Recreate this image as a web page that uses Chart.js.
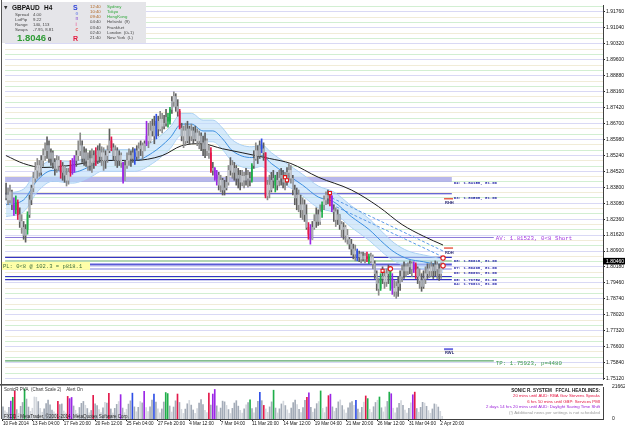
<!DOCTYPE html>
<html>
<head>
<meta charset="utf-8">
<title>GBPAUD H4</title>
<script src="https://cdn.jsdelivr.net/npm/chart.js@4.4.1/dist/chart.umd.min.js"></script>
<style>
  html, body { margin: 0; padding: 0; background: #fff; }
  #wrap { position: relative; width: 625px; height: 429px; overflow: hidden; background: #fff; }
  canvas { position: absolute; left: 0; }
  #main { top: 0; }
  #vol { top: 384px; }
</style>
</head>
<body>
<div id="wrap">
  <canvas id="main" width="625" height="385"></canvas>
  <canvas id="vol" width="625" height="45"></canvas>
</div>
<script>
// GBPAUD H4 bars, 10 Feb 16:00 .. 3 Apr 00:00 (one value per bar)
const firstOpen = 1.8332;
const closes = [
  1.8345,1.8323,1.8359,1.8301,1.8278,1.8310,1.8256,1.8225,1.8198,1.8162,1.8189,
  1.8256,1.8323,1.8377,1.8421,1.8457,
  1.8479,1.8448,1.8502,1.8524,1.8546,1.8569,1.8511,1.8537,1.8493,1.8466,1.8502,1.8479,1.8448,1.8475,1.8435,
  1.8412,1.8448,1.8479,1.8457,1.8502,1.8524,
  1.8546,1.8569,1.8511,1.8537,1.8502,1.8479,1.8511,1.8493,1.8524,1.8502,1.8546,1.8520,1.8537,
  1.8502,1.8524,1.8546,1.8591,1.8560,1.8524,1.8546,1.8502,1.8524,1.8493,1.8412,
  1.8479,1.8502,1.8524,1.8511,1.8537,1.8520,1.8546,1.8555,1.8569,1.8546,
  1.8578,1.8613,1.8591,1.8636,1.8658,1.8613,1.8680,1.8645,1.8689,1.8658,1.8671,1.8698,
  1.8680,1.8734,1.8770,1.8792,1.8747,1.8725,
  1.8649,1.8613,1.8636,
  1.8591,1.8645,1.8613,1.8636,1.8600,1.8627,1.8591,1.8613,1.8582,1.8555,1.8591,1.8546,1.8537,
  1.8457,1.8466,
  1.8421,1.8435,1.8390,1.8412,1.8368,1.8377,1.8403,
  1.8457,1.8479,1.8448,1.8466,1.8421,1.8435,1.8403,1.8430,1.8412,1.8435,
  1.8421,1.8412,1.8479,1.8511,1.8546,1.8524,1.8569,1.8555,1.8537,
  1.8341,1.8390,
  1.8368,1.8412,1.8421,1.8390,1.8412,1.8421,1.8435,1.8403,1.8421,1.8448,1.8457,
  1.8421,1.8368,1.8332,1.8345,1.8301,1.8278,1.8301,1.8256,1.8198,1.8167,1.8144,
  1.8198,1.8225,1.8256,1.8225,1.8269,1.8301,1.8323,1.8345,1.8332,1.8341,
  1.8278,1.8269,1.8234,1.8256,1.8211,1.8189,1.8198,1.8162,1.8144,
  1.8122,1.8100,1.8077,1.8091,1.8064,1.8077,1.8055,1.8068,1.8055,1.8064,1.8046,1.8064,1.8033,
  1.7988,1.7943,1.7921,1.7966,1.7975,1.7952,1.7988,1.8001,1.7966,1.7921,1.7908,1.7930,
  1.7943,1.7975,1.8001,1.8019,1.8001,1.8019,1.8033,1.8010,1.8028,1.8010,1.7975,
  1.7957,1.7930,1.7966,1.7988,1.8010,1.8001,
  1.8019,1.8001,1.8028,1.8010,1.7988,1.8019,1.8046
];
const highs = [
  1.8399,1.8377,1.8390,1.8368,1.8332,1.8341,1.8323,1.8287,1.8256,1.8225,1.8211,
  1.8269,1.8345,1.8390,1.8448,1.8493,
  1.8511,1.8502,1.8524,1.8555,1.8582,1.8609,1.8591,1.8555,1.8546,1.8511,1.8524,1.8520,1.8502,1.8493,1.8479,
  1.8466,1.8466,1.8502,1.8511,1.8524,1.8546,
  1.8591,1.8627,1.8591,1.8564,1.8555,1.8537,1.8546,1.8555,1.8546,1.8560,1.8569,1.8578,1.8564,
  1.8560,1.8546,1.8569,1.8645,1.8609,1.8578,1.8569,1.8560,1.8546,1.8537,1.8493,
  1.8502,1.8537,1.8555,1.8546,1.8560,1.8555,1.8569,1.8582,1.8591,1.8582,
  1.8591,1.8680,1.8671,1.8680,1.8689,1.8703,1.8712,1.8703,1.8725,1.8716,1.8707,1.8734,
  1.8716,1.8743,1.8792,1.8814,1.8805,1.8778,
  1.8734,1.8671,1.8658,
  1.8671,1.8680,1.8658,1.8667,1.8653,1.8658,1.8645,1.8636,1.8627,1.8613,1.8627,1.8600,1.8569,
  1.8560,1.8493,
  1.8470,1.8457,1.8448,1.8435,1.8421,1.8412,1.8430,
  1.8479,1.8515,1.8502,1.8493,1.8479,1.8466,1.8457,1.8457,1.8448,1.8466,
  1.8457,1.8448,1.8488,1.8546,1.8582,1.8569,1.8591,1.8600,1.8582,
  1.8524,1.8412,
  1.8435,1.8448,1.8457,1.8435,1.8448,1.8457,1.8466,1.8457,1.8448,1.8470,1.8488,
  1.8479,1.8435,1.8390,1.8377,1.8368,1.8345,1.8332,1.8323,1.8301,1.8220,1.8211,
  1.8225,1.8256,1.8287,1.8278,1.8301,1.8314,1.8341,1.8359,1.8368,1.8359,
  1.8336,1.8301,1.8287,1.8278,1.8256,1.8225,1.8220,1.8207,1.8189,
  1.8153,1.8144,1.8122,1.8118,1.8100,1.8091,1.8086,1.8086,1.8082,1.8086,1.8077,1.8082,1.8073,
  1.8046,1.8001,1.7966,1.7988,1.8019,1.7997,1.8010,1.8028,1.8019,1.7988,1.7957,1.7952,
  1.7975,1.8001,1.8028,1.8042,1.8033,1.8037,1.8046,1.8042,1.8042,1.8037,1.8019,
  1.8010,1.7988,1.8001,1.8019,1.8033,1.8033,
  1.8042,1.8033,1.8046,1.8042,1.8033,1.8037,1.8055
];
const lows = [
  1.8323,1.8301,1.8310,1.8278,1.8252,1.8260,1.8234,1.8198,1.8171,1.8144,1.8131,
  1.8167,1.8243,1.8301,1.8359,1.8403,
  1.8421,1.8430,1.8435,1.8475,1.8502,1.8511,1.8493,1.8479,1.8466,1.8435,1.8448,1.8457,1.8421,1.8412,1.8403,
  1.8386,1.8394,1.8430,1.8439,1.8448,1.8475,
  1.8502,1.8524,1.8493,1.8479,1.8475,1.8457,1.8457,1.8448,1.8466,1.8479,1.8488,1.8493,1.8479,
  1.8457,1.8466,1.8493,1.8537,1.8546,1.8502,1.8479,1.8470,1.8479,1.8470,1.8399,
  1.8421,1.8466,1.8479,1.8475,1.8493,1.8484,1.8502,1.8511,1.8524,1.8511,
  1.8546,1.8569,1.8560,1.8582,1.8613,1.8578,1.8600,1.8613,1.8636,1.8627,1.8645,1.8658,
  1.8653,1.8667,1.8716,1.8747,1.8725,1.8703,
  1.8645,1.8591,1.8560,
  1.8569,1.8582,1.8578,1.8591,1.8578,1.8591,1.8569,1.8555,1.8546,1.8524,1.8515,1.8524,1.8511,
  1.8448,1.8435,
  1.8412,1.8390,1.8368,1.8359,1.8345,1.8345,1.8368,
  1.8390,1.8435,1.8421,1.8412,1.8390,1.8377,1.8368,1.8386,1.8377,1.8390,
  1.8381,1.8386,1.8403,1.8466,1.8502,1.8488,1.8511,1.8537,1.8502,
  1.8332,1.8323,
  1.8332,1.8359,1.8377,1.8359,1.8368,1.8386,1.8390,1.8377,1.8368,1.8390,1.8412,
  1.8399,1.8345,1.8301,1.8278,1.8269,1.8243,1.8234,1.8225,1.8189,1.8144,1.8122,
  1.8153,1.8189,1.8198,1.8207,1.8211,1.8243,1.8278,1.8301,1.8305,1.8296,
  1.8269,1.8225,1.8202,1.8211,1.8189,1.8153,1.8144,1.8131,1.8122,
  1.8100,1.8073,1.8055,1.8046,1.8046,1.8042,1.8037,1.8046,1.8037,1.8042,1.8033,1.8037,1.8010,
  1.7966,1.7912,1.7890,1.7912,1.7943,1.7921,1.7930,1.7943,1.7912,1.7894,1.7885,1.7876,
  1.7885,1.7912,1.7952,1.7966,1.7975,1.7984,1.7988,1.7975,1.7993,1.7966,1.7943,
  1.7921,1.7908,1.7921,1.7943,1.7966,1.7970,
  1.7975,1.7966,1.7979,1.7966,1.7957,1.7966,1.8010
];
// tick volume, six bars per trading day
const volumes = [
  8200,5600,4300,7900,12100,14700,
  18900,6400,3900,8600,11200,20300,
  13500,8100,5200,7300,14900,14700,
  11800,7200,4600,6900,10400,12800,
  9600,6100,4800,3600,12000,9800,
  10200,5400,4100,15300,13800,14600,
  8800,5900,3700,7800,10600,11900,
  9300,7100,4200,5800,16000,10200,
  9100,6300,4400,7600,11300,10800,
  17400,6800,4100,7200,9900,11800,
  16500,7400,4300,6600,10100,12300,
  17500,8200,4900,7900,11800,10900,
  18800,7700,5100,8300,12800,16800,
  11400,6900,4200,6800,11500,17900,
  17200,8800,4700,8100,12300,16900,
  11200,6500,3800,6700,10300,12600,
  9400,6100,3900,7100,10800,13200,
  9800,5800,4300,17500,9400,16900,
  20000,8900,4800,7400,12100,11600,
  9200,6400,3700,7200,10800,12400,
  8700,5900,4000,6800,9600,11100,
  13000,7100,4200,7700,11900,18000,
  12400,9200,6800,4500,8200,11600,
  19500,7400,4100,6900,10200,12100,
  9100,6200,3900,7400,11100,12800,
  9800,6600,4400,7800,12600,14700,
  17700,7900,4600,6900,10400,11800,
  19000,7200,4300,8100,15800,16800,
  8200,5100,7300,11600,12900,9100,
  6200,4000,7600,10900,11800,9300,
  12600,6700,4300,7900,11400,15600,
  13800,6600,4400,8300,11200,12700,
  14900,7600,4800,8200,11900,18200,
  17100,7300,4200,7600,10600,12400,
  9300,6100,4000,7200,10900,16400,
  18200,7100,4600,7900,11300,10800,
  8600,5700,3900,6800,10200,9800,
  8100,5200,1800
];
// PVA bar class per bar: g normal, l low, r/n climax bear/bull, b/v rising volume
const pvaDays = ['gllgvn','rglggn','ggllll','gllggg','ggllrg','gllrvv','gllggg','lglgrg','gllglg','rglggl',
  'vgllgg','bglglg','vllggb','gllggn','nglggr','gllggl','ggllgg','gllrgv','vglggg','lglggg',
  'gllglg','nglggb','grllgg','nglggl','gllggg','lglggr','vglggl','nllgrv','glgglg','llgggl',
  'bglglr','nllggl','ngllgn','vllggl','gllglv','rglggl','gllggl','gll'];

// moving averages, read at a few bars
const smaBars = [0,9,19,29,39,50,65,80,90,100,111,121,135,146,160,177,191,203,214,224];
const smaVals = [1.8524,1.8488,1.8470,1.8475,1.8488,1.8502,1.8502,1.8524,1.8569,1.8578,1.8555,1.8537,1.8511,1.8488,1.8426,1.8368,1.8292,1.8211,1.8158,1.8118];
const emaBars = [0,9,16,24,34,44,49,66,75,84,90,95,101,106,111,116,126,131,136,143,152,160,168,177,186,194,199,206,214,224];
const emaMid = [1.8301,1.8323,1.8412,1.8457,1.8448,1.8479,1.8502,1.8502,1.8537,1.8604,1.8667,1.8667,1.8636,1.8636,1.8600,1.8546,1.8515,1.8524,1.8488,1.8444,1.8390,1.8336,1.8314,1.8247,1.8189,1.8122,1.8086,1.8055,1.8042,1.8024];
const emaUpper = [1.8354,1.8372,1.8461,1.8502,1.8497,1.8528,1.8551,1.8551,1.8587,1.8653,1.8716,1.8716,1.8685,1.8685,1.8649,1.8595,1.8564,1.8573,1.8537,1.8493,1.8439,1.8386,1.8359,1.8296,1.8238,1.8167,1.8127,1.8091,1.8073,1.8055];
const emaLower = [1.8247,1.8269,1.8359,1.8408,1.8399,1.8430,1.8453,1.8453,1.8488,1.8555,1.8618,1.8618,1.8587,1.8587,1.8551,1.8497,1.8466,1.8475,1.8439,1.8394,1.8341,1.8287,1.8265,1.8198,1.8140,1.8077,1.8046,1.8019,1.8010,1.7993];
const projBars = [167, 224];
const projA = [1.8332, 1.8091];
const projB = [1.8301, 1.8064];

// order levels and labels
const levelNames = ['02','03','08','07','06','05','04'];
const levelPrices = [1.84158,1.83508,1.80618,1.80298,1.80091,1.79752,1.79611];
const levelLots = '81.00';
const avPrice = 1.81523, avNote = '0<8 Short';
const tpPrice = 1.75923, tpPips = 4480;
const bidPrice = 1.80460;
const plText = 'PL: 0<8 @ 102.3 = p818.1';
const pivotTags = ['RHH','RDH','RWL'];
const pivotPrices = [1.8328, 1.8104, 1.7646];
const markBars = [143, 144, 166, 193, 197, 224, 224];
const markPrices = [1.8426, 1.8412, 1.8354, 1.8001, 1.8010, 1.8024, 1.8059];

// axes
const priceTickTop = 1.91760, priceTickStep = 0.0072349;
const priceLabels = ['1.91760','1.91040','1.90320','1.89600','1.88880','1.88160','1.87420','1.86700','1.85980','1.85240',
  '1.84520','1.83800','1.83080','1.82360','1.81620','1.80900','1.80180','1.79460','1.78740','1.78020','1.77320','1.76600','1.75840','1.75120'];
const timeTickBars = [0,15,31,47,63,79,95,111,127,143,159,175,191,207,223];
const timeLabels = ['10 Feb 2014','13 Feb 04:00','17 Feb 20:00','20 Feb 12:00','25 Feb 04:00','27 Feb 20:00','4 Mar 12:00',
  '7 Mar 04:00','11 Mar 20:00','14 Mar 12:00','19 Mar 04:00','21 Mar 20:00','26 Mar 12:00','31 Mar 04:00','2 Apr 20:00'];
const volMax = 21662;

// info panel
const symbolName = 'GBPAUD', timeframe = 'H4';
const infoKeys = ['Spread','LotPip','Range','Swaps'];
const infoVals = ['4.00','9.22','140, 113','-7.95, 8.81'];
const bidText = '1.8046', bidPip = '0';
const sessionTimes = ['12:40','10:40','09:40','04:40','03:40','02:40','21:40'];
const sessionCities = ['Sydney','Tokyo','HongKong','Helsinki  (9)','Frankfurt','London  (0+1)','New York  (L)'];

// sub window texts
const pvaTitle = 'SonicR PVA  (Chart Scale 2)    Alert On';
const brokerNote = 'FXDD - MetaTrader, \u00a92001-2014, MetaQuotes Software Corp.';
const newsTitle = 'SONIC R. SYSTEM   FFCAL HEADLINES:';
const newsLines = ['20 mins until AUD: RBA Gov Stevens Speaks','6 hrs 50 mins until GBP: Services PMI',
  '2 days 14 hrs 20 mins until AUD: Daylight Saving Time Shift','(!) Additional news per settings is not scheduled'];

// ---------------------------------------------------------------
const X_MIN = -0.5, X_MAX = 306;
const Y_TOP = 1.92073, Y_BOTTOM = 1.75057;
const LEVEL_END = 228.5, LONG_END = 250;

const C = { g:'#a3abb7', l:'#d3d7dd', r:'#e3184a', n:'#1fae4a', b:'#2f4fe6', v:'#9b27e6' };
const wickCol = c => c === 'g' ? '#5e5e5e' : c === 'l' ? '#8a8a8a' : C[c];
const bodyCol = c => c === 'g' ? '#a9aeb5' : c === 'l' ? '#c9ccd1' : C[c];
const gridCycle = ['#d9d9f5', '#f1ecd8', '#d2efd2'];

const pva = pvaDays.join('');
const n = Math.min(closes.length, highs.length, lows.length, volumes.length);
const bars = [...Array(n).keys()];
const opens = bars.map(i => i === 0 ? firstOpen : closes[i - 1]);
const wickData = bars.map(i => ({ x: i, y: [Math.min(lows[i], opens[i], closes[i]), Math.max(highs[i], opens[i], closes[i])] }));
const bodyData = bars.map(i => ({ x: i, y: [opens[i], closes[i]] }));
const pts = (xs, ys) => xs.map((b, i) => ({ x: b, y: ys[i] }));

const subIndex = v => Math.round((priceTickTop - v) / (priceTickStep / 3));
const gridValues = [];
for (let m = -2; m <= 3 * (priceLabels.length - 1); m++) {
  const v = priceTickTop - m * priceTickStep / 3;
  if (v >= Y_BOTTOM && v <= Y_TOP) gridValues.push(v);
}
gridValues.sort((a, b) => a - b);

const levelStyle = [
  { w: 5, c: 'rgba(170,170,232,0.85)' }, { w: 1.2, c: '#3434c4' }, { w: 1.2, c: '#3434c4' },
  { w: 2, c: '#5a5ad6' }, { w: 1.6, c: '#a8a8e8' }, { w: 1.2, c: '#3434c4' }, { w: 1.2, c: '#3434c4' }
];
const hline = (p, end, color, width, order) => ({
  type: 'line', data: [{ x: X_MIN, y: p }, { x: end, y: p }], borderColor: color, borderWidth: width,
  pointRadius: 0, order
});

function txt(ctx, s, x, y, font, color, align) {
  ctx.font = font; ctx.fillStyle = color; ctx.textAlign = align || 'left'; ctx.textBaseline = 'alphabetic';
  ctx.fillText(s, x, y);
}

Chart.defaults.font.family = 'Liberation Sans';
Chart.defaults.color = '#000';

const mainOverlay = {
  id: 'mainOverlay',
  afterDraw(chart) {
    const { ctx, scales: { x, y } } = chart;
    const X = v => x.getPixelForValue(v), Y = v => y.getPixelForValue(v);
    ctx.save();
    ctx.fillStyle = '#555'; ctx.fillRect(1, 0, 1, 385);

    // pivot tags
    const tagCol = ['#e8604c', '#e8604c', '#6a6ae0'];
    pivotTags.forEach((t, i) => {
      const py = Y(pivotPrices[i]);
      ctx.fillStyle = tagCol[i];
      ctx.fillRect(X(224) + 1, py - 0.8, 9, i === 2 ? 2 : 1.5);
      txt(ctx, t, X(224) + 2, py + 5.5, 'bold 4px "Liberation Sans"', '#26266e');
    });
    // level labels
    levelPrices.forEach((p, i) => txt(ctx, `${levelNames[i]}: ${p.toFixed(5)}, ${levelLots}`,
      X(LEVEL_END) + 2, Y(p) + 5, 'bold 4px "Liberation Mono"', '#1b1ba6'));
    txt(ctx, `AV: ${avPrice.toFixed(5)}, ${avNote}`, X(LONG_END) + 2, Y(avPrice) + 3, '5.8px "Liberation Mono"', '#a43ae0');
    txt(ctx, `TP: ${tpPrice.toFixed(5)}, p=${tpPips}`, X(LONG_END) + 2, Y(tpPrice) + 4.5, '5.8px "Liberation Mono"', '#3c9a4c');

    // PL box
    const yb = Y(bidPrice);
    ctx.fillStyle = '#ffffa8'; ctx.fillRect(2, yb + 1, 88, 8);
    txt(ctx, plText, 3, yb + 7.3, '5.5px "Liberation Mono"', '#40703f');
    // bid tag on axis
    ctx.fillStyle = '#000'; ctx.fillRect(603, yb - 3, 22, 6.5);
    txt(ctx, bidPrice.toFixed(5), 606, yb + 2, '5px "Liberation Sans"', '#fff');

    // info panel
    ctx.fillStyle = '#e5e5e9'; ctx.fillRect(2, 2, 144, 41);
    txt(ctx, '\u25bc', 4, 8.5, '4.5px "DejaVu Sans"', '#333');
    txt(ctx, symbolName, 12, 9.5, 'bold 6.5px "Liberation Sans"', '#111');
    txt(ctx, timeframe, 44, 9.5, 'bold 6.5px "Liberation Sans"', '#111');
    infoKeys.forEach((k, i) => {
      txt(ctx, k, 15, 15.5 + 5.3 * i, '4.3px "Liberation Sans"', '#444');
      txt(ctx, infoVals[i], 33, 15.5 + 5.3 * i, '4.3px "Liberation Sans"', '#444');
    });
    txt(ctx, bidText, 17, 41, 'bold 9.5px "Liberation Sans"', '#2e9b35');
    txt(ctx, bidPip, 48, 41, 'bold 6px "Liberation Sans"', '#111');
    txt(ctx, 'S', 73, 9.5, 'bold 7px "Liberation Sans"', '#2a3ed8');
    ['o','n','i','c'].forEach((ch, i) => txt(ctx, ch, 75.5, 15 + 5.3 * i, 'bold 4.5px "Liberation Sans"',
      ['#7d8fe6','#9d6fd6','#e86aa0','#e84c4c'][i]));
    txt(ctx, 'R', 73, 41, 'bold 7px "Liberation Sans"', '#e3183c');
    sessionTimes.forEach((t, i) => {
      txt(ctx, t, 90, 7.5 + 5.3 * i, '4.3px "Liberation Sans"', i < 3 ? '#b0641e' : '#454545');
      txt(ctx, sessionCities[i], 107, 7.5 + 5.3 * i, '4.3px "Liberation Sans"', i < 3 ? '#2ea83a' : '#454545');
    });
    ctx.restore();
  }
};

new Chart(document.getElementById('main'), {
  type: 'bar',
  data: {
    datasets: [
      { type: 'line', data: pts(markBars, markPrices), showLine: false,
        pointStyle: ['rect','rect','rect','rect','circle','circle','circle'], pointRadius: 2.2,
        pointBorderColor: '#e01818', pointBackgroundColor: '#fff', pointBorderWidth: 1.1, order: 0 },
      { data: bodyData, backgroundColor: bars.map(i => bodyCol(pva[i])), barThickness: 1, grouped: false, order: 1 },
      { data: wickData, backgroundColor: bars.map(i => wickCol(pva[i])), barThickness: 1, grouped: false, order: 2 },
      { type: 'line', data: pts(smaBars, smaVals), borderColor: '#1e1e1e', borderWidth: 1, pointRadius: 0,
        cubicInterpolationMode: 'monotone', order: 3 },
      { type: 'line', data: pts(emaBars, emaMid), borderColor: '#3c8fe0', borderWidth: 1, pointRadius: 0,
        cubicInterpolationMode: 'monotone', order: 3 },
      { type: 'line', data: pts(projBars, projA), borderColor: '#5a9ae8', borderWidth: 1, borderDash: [3, 2], pointRadius: 0, order: 3 },
      { type: 'line', data: pts(projBars, projB), borderColor: '#5a9ae8', borderWidth: 1, borderDash: [3, 2], pointRadius: 0, order: 3 },
      { type: 'line', data: pts(emaBars, emaUpper), borderColor: '#a9cff2', borderWidth: 1, pointRadius: 0,
        cubicInterpolationMode: 'monotone', backgroundColor: 'rgba(186,220,250,0.6)', fill: '+1', order: 5 },
      { type: 'line', data: pts(emaBars, emaLower), borderColor: '#a9cff2', borderWidth: 1, pointRadius: 0,
        cubicInterpolationMode: 'monotone', fill: false, order: 5 },
      ...levelPrices.map((p, i) => hline(p, LEVEL_END, levelStyle[i].c, levelStyle[i].w, 6)),
      hline(avPrice, LONG_END, '#8a78d8', 1, 6),
      hline(tpPrice, LONG_END, '#5aa66a', 1.2, 6),
      hline(bidPrice, LEVEL_END, '#86b886', 1, 6)
    ]
  },
  options: {
    responsive: false, animation: false,
    layout: { padding: { left: 2, top: 2, right: 0, bottom: 2 } },
    plugins: { legend: { display: false }, tooltip: { enabled: false } },
    scales: {
      x: { type: 'linear', min: X_MIN, max: X_MAX, display: false, offset: false, grid: { display: false, offset: false } },
      y: {
        position: 'right', min: Y_BOTTOM, max: Y_TOP, beginAtZero: false,
        afterFit(s) { s.width = 22; },
        afterBuildTicks(s) { s.ticks = gridValues.map(v => ({ value: v })); },
        ticks: {
          autoSkip: false, padding: 1, color: '#111',
          font: { size: 5, lineHeight: 0.8 },
          callback: v => { const m = subIndex(v); return (m >= 0 && m % 3 === 0) ? priceLabels[m / 3] : ''; }
        },
        grid: {
          color: c => c.tick ? gridCycle[((subIndex(c.tick.value) % 3) + 3) % 3] : 'transparent',
          tickColor: c => (c.tick && subIndex(c.tick.value) % 3 === 0) ? '#222' : 'transparent',
          tickLength: 2, lineWidth: 1
        },
        border: { display: true, color: '#404040' }
      }
    }
  },
  plugins: [mainOverlay]
});

const volOverlay = {
  id: 'volOverlay',
  afterDraw(chart) {
    const { ctx } = chart;
    ctx.save();
    ctx.fillStyle = '#4a4a4a'; ctx.fillRect(0, 0, 603, 1.6);
    ctx.fillStyle = '#555'; ctx.fillRect(1, 0, 1, 35);
    txt(ctx, pvaTitle, 4, 7, '4.5px "Liberation Sans"', '#333');
    txt(ctx, brokerNote, 4, 33.8, '4.5px "Liberation Sans"', '#222');
    txt(ctx, newsTitle, 600, 7.5, 'bold 4.6px "Liberation Sans"', '#222', 'right');
    const nc = ['#e3103c', '#e3103c', '#9a1fd8', '#9a9a9a'];
    newsLines.forEach((s, i) => txt(ctx, s, 600, 13.3 + 5.5 * i, '4.3px "Liberation Sans"', nc[i], 'right'));
    ctx.restore();
  }
};

new Chart(document.getElementById('vol'), {
  type: 'bar',
  data: {
    datasets: [{ data: bars.map(i => ({ x: i, y: volumes[i] })), backgroundColor: bars.map(i => C[pva[i]]),
      barThickness: 1, grouped: false }]
  },
  options: {
    responsive: false, animation: false,
    layout: { padding: { left: 2, top: 2, right: 0, bottom: 0 } },
    plugins: { legend: { display: false }, tooltip: { enabled: false } },
    scales: {
      x: {
        type: 'linear', min: X_MIN, max: X_MAX, offset: false,
        afterFit(s) { s.height = 10; },
        afterBuildTicks(s) { s.ticks = timeTickBars.map(v => ({ value: v })); },
        ticks: {
          autoSkip: false, maxRotation: 0, minRotation: 0, align: 'start', padding: 0.5, color: '#111',
          font: { size: 4.6, lineHeight: 0.9 },
          callback: v => { const k = timeTickBars.indexOf(v); return k >= 0 ? timeLabels[k] : ''; }
        },
        grid: { drawOnChartArea: false, tickLength: 2, color: '#222', offset: false },
        border: { display: true, color: '#404040' }
      },
      y: {
        position: 'right', min: 0, max: volMax, beginAtZero: true,
        afterFit(s) { s.width = 22; },
        afterBuildTicks(s) { s.ticks = [{ value: 0 }, { value: volMax }]; },
        ticks: { autoSkip: false, padding: 1, color: '#111', font: { size: 5, lineHeight: 0.8 }, callback: v => String(v) },
        grid: { display: false },
        border: { display: true, color: '#404040' }
      }
    }
  },
  plugins: [volOverlay]
});
</script>
</body>
</html>
